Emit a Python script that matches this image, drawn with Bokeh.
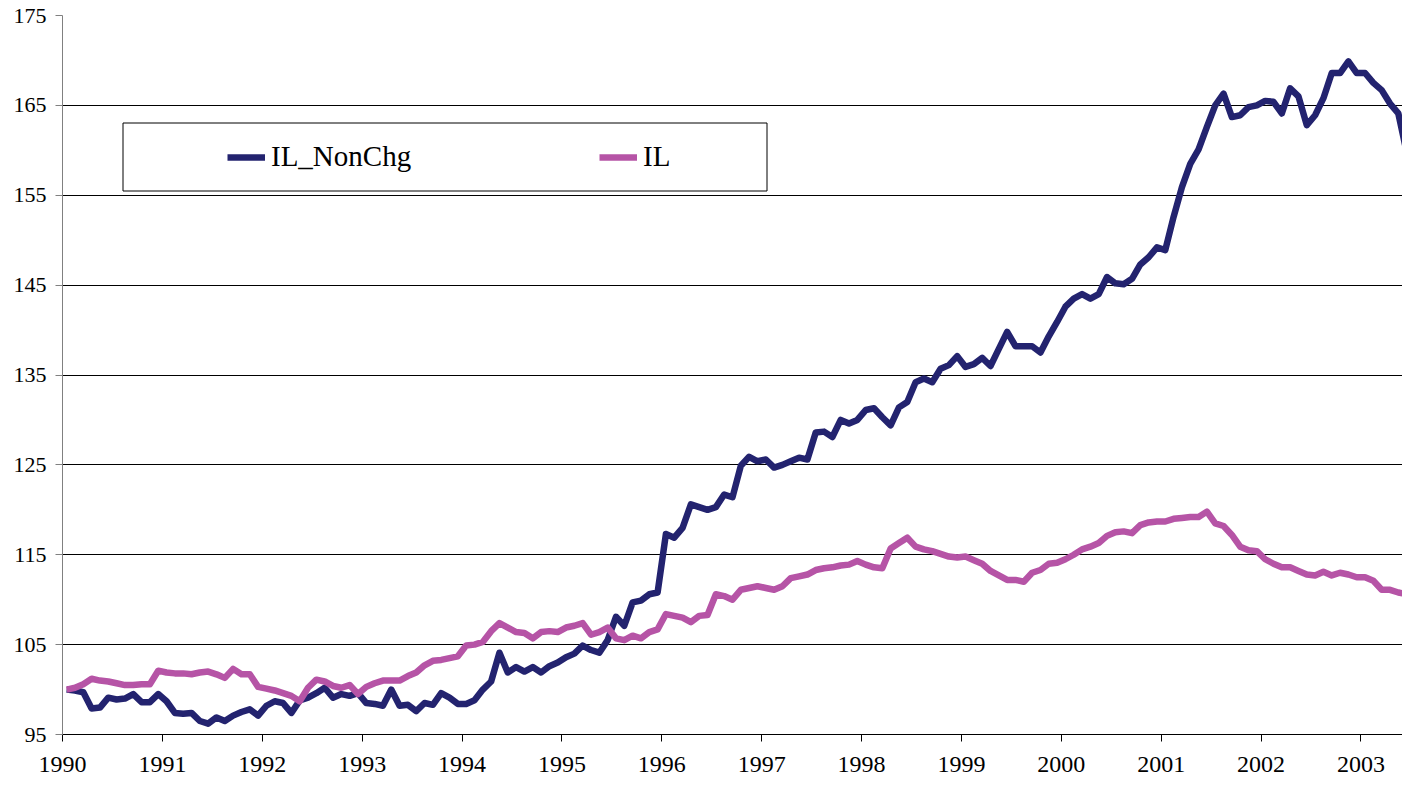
import numpy as np
from bokeh.plotting import figure
from bokeh.models import Range1d, FixedTicker, Legend, LegendItem, BoxAnnotation
from bokeh.embed import file_html
from bokeh.resources import INLINE

# ---- data (monthly index values, Jan 1990 = 100) ----
start_year = 1990
il_nonchg = [
    100.0, 99.9, 99.7, 97.9, 98.0, 99.1, 98.9, 99.0, 99.5, 98.6, 98.6, 99.5,
    98.7, 97.4, 97.3, 97.4, 96.5, 96.2, 96.9, 96.5, 97.1, 97.5, 97.8, 97.1,
    98.2, 98.7, 98.5, 97.4, 98.8, 99.1, 99.6, 100.2, 99.1, 99.5, 99.3, 99.6,
    98.5, 98.4, 98.2, 100.0, 98.2, 98.3, 97.6, 98.5, 98.3, 99.6, 99.1, 98.4,
    98.4, 98.8, 100.0, 100.9, 104.1, 101.9, 102.5, 102.0, 102.5, 101.9, 102.6, 103.0,
    103.6, 104.0, 104.9, 104.4, 104.1, 105.5, 108.1, 107.1, 109.7, 109.9, 110.6, 110.8,
    117.3, 116.9, 118.0, 120.6, 120.3, 120.0, 120.3, 121.7, 121.4, 124.9, 125.9, 125.4,
    125.6, 124.7, 125.0, 125.4, 125.8, 125.6, 128.6, 128.7, 128.1, 130.0, 129.6, 130.0,
    131.1, 131.3, 130.3, 129.4, 131.4, 132.0, 134.2, 134.6, 134.2, 135.7, 136.1, 137.1,
    135.9, 136.2, 136.9, 136.0, 137.9, 139.8, 138.2, 138.2, 138.2, 137.5, 139.3, 140.9,
    142.6, 143.5, 144.0, 143.5, 144.0, 145.9, 145.2, 145.1, 145.7, 147.3, 148.1, 149.2,
    148.9, 152.6, 155.9, 158.5, 160.1, 162.6, 165.0, 166.3, 163.7, 163.9, 164.8, 165.0,
    165.5, 165.4, 164.1, 166.9, 166.0, 162.8, 163.9, 165.8, 168.6, 168.6, 169.9, 168.6,
    168.6, 167.5, 166.7, 165.2, 164.1, 159.8,
]
il = [
    100.0, 100.2, 100.6, 101.2, 101.0, 100.9, 100.7, 100.5, 100.5, 100.6, 100.6, 102.1,
    101.9, 101.8, 101.8, 101.7, 101.9, 102.0, 101.7, 101.3, 102.3, 101.7, 101.7, 100.3,
    100.1, 99.9, 99.6, 99.3, 98.7, 100.2, 101.1, 100.9, 100.4, 100.2, 100.5, 99.5,
    100.3, 100.7, 101.0, 101.0, 101.0, 101.5, 101.9, 102.7, 103.2, 103.3, 103.5, 103.7,
    104.9, 105.0, 105.3, 106.5, 107.4, 106.9, 106.4, 106.3, 105.7, 106.4, 106.5, 106.4,
    106.9, 107.1, 107.4, 106.1, 106.4, 106.9, 105.7, 105.5, 106.0, 105.7, 106.4, 106.7,
    108.4, 108.2, 108.0, 107.5, 108.2, 108.3, 110.6, 110.4, 110.0, 111.1, 111.3, 111.5,
    111.3, 111.1, 111.5, 112.4, 112.6, 112.8, 113.3, 113.5, 113.6, 113.8, 113.9, 114.3,
    113.9, 113.6, 113.5, 115.7, 116.3, 116.9, 115.9, 115.6, 115.4, 115.1, 114.8, 114.7,
    114.8, 114.4, 114.0, 113.2, 112.7, 112.2, 112.2, 112.0, 113.0, 113.3, 114.0, 114.1,
    114.5, 115.0, 115.6, 115.9, 116.3, 117.1, 117.5, 117.6, 117.4, 118.3, 118.6, 118.7,
    118.7, 119.0, 119.1, 119.2, 119.2, 119.8, 118.5, 118.2, 117.2, 115.9, 115.5, 115.4,
    114.5, 114.0, 113.6, 113.6, 113.2, 112.8, 112.7, 113.1, 112.7, 113.0, 112.8, 112.5,
    112.5, 112.1, 111.1, 111.1, 110.8, 110.6,
]
series_names = ["IL_NonChg", "IL"]
series_colors = ["#23236F", "#B654A6"]
year_ticks = list(range(1990, 2004))
value_ticks = list(range(95, 176, 10))

FONT = "Liberation Serif"

# observations dated mid-month
months = np.arange(len(il_nonchg))
x = start_year + (months + 0.5) / 12.0

p = figure(
    width=1402, height=785,
    output_backend="svg", toolbar_location=None,
    x_range=Range1d(1990, 2003 + 5 / 12), y_range=Range1d(95, 175),
    min_border_left=62, min_border_right=0, min_border_top=15, min_border_bottom=51,
)
p.outline_line_color = None
p.background_fill_color = "white"
p.border_fill_color = "white"

r1 = p.line(x, il_nonchg, line_color=series_colors[0], line_width=6.5, line_join="round")
r2 = p.line(x, il, line_color=series_colors[1], line_width=6.5, line_join="round")

# axes
p.xaxis.ticker = FixedTicker(ticks=year_ticks)
p.yaxis.ticker = FixedTicker(ticks=value_ticks)
for ax in (p.xaxis[0], p.yaxis[0]):
    ax.major_label_text_font = FONT
    ax.major_label_text_color = "black"
    ax.major_tick_in = 0
    ax.major_tick_out = 7
    ax.minor_tick_line_color = None
p.xaxis.major_label_text_font_size = "24px"
p.yaxis.major_label_text_font_size = "22px"
p.xaxis.axis_line_color = "black"
p.xaxis.major_tick_line_color = "black"
p.xaxis.major_label_standoff = 15
p.yaxis.axis_line_color = "#808080"
p.yaxis.major_tick_line_color = "#808080"
p.yaxis.major_label_standoff = 9

p.xgrid.grid_line_color = None
p.ygrid.ticker = FixedTicker(ticks=value_ticks)
p.ygrid.grid_line_color = "black"
p.ygrid.grid_line_width = 1

# legend frame
box = BoxAnnotation(
    left=122.5, right=766.5, top=122.5, bottom=190.5,
    left_units="canvas", right_units="canvas", top_units="canvas", bottom_units="canvas",
    fill_color="white", fill_alpha=1.0,
    line_color="black", line_alpha=1.0, line_width=1,
)
p.add_layout(box)

legend = Legend(
    items=[LegendItem(label=series_names[0], renderers=[r1]),
           LegendItem(label=series_names[1], renderers=[r2])],
    location=(160, 556), orientation="horizontal",
    glyph_width=38, glyph_height=30, label_height=30, label_width=328,
    label_standoff=6, spacing=0, padding=5, margin=0,
    border_line_alpha=0, background_fill_alpha=0,
    label_text_font=FONT, label_text_font_size="29px",
    label_text_color="black",
)
p.add_layout(legend)

open("out.html", "w").write(file_html(p, INLINE))
